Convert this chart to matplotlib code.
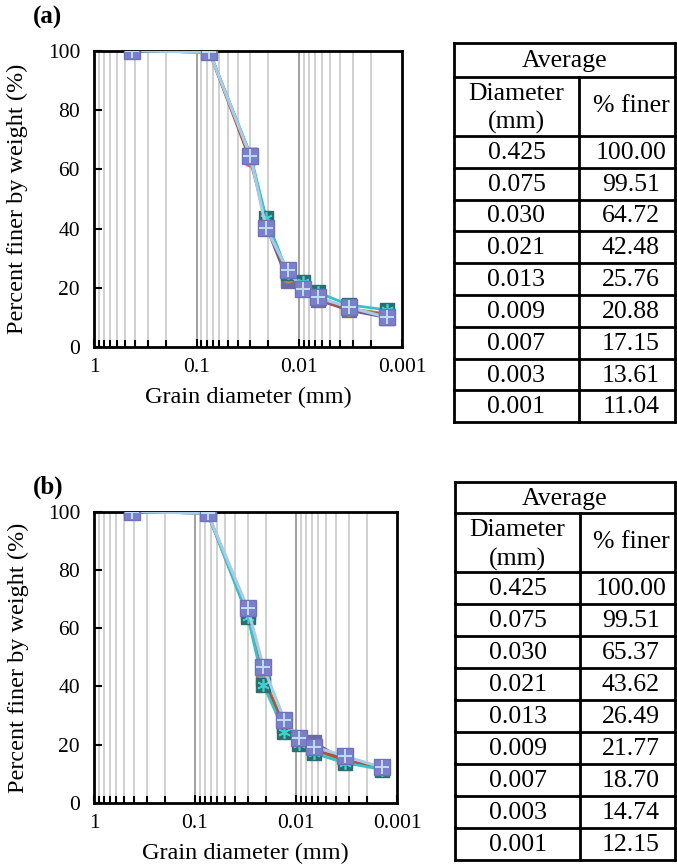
import matplotlib
matplotlib.use("Agg")
import matplotlib.pyplot as plt
from matplotlib.ticker import FixedLocator, FuncFormatter, NullFormatter

plt.rcParams['font.family'] = ['Liberation Serif', 'DejaVu Serif']

# sieve / hydrometer diameters (mm)
diam = [0.425, 0.075, 0.030, 0.021, 0.013, 0.0093, 0.0066, 0.0033, 0.0014]

# replicate gradation curves, soil (a)
a_red = [100, 99.5, 63.0, 43.0, 24.5, 20.5, 16.2, 12.8, 10.9]
a_olive = [100, 99.5, 64.0, 42.5, 24.0, 21.0, 16.5, 13.0, 11.3]
a_purple = [100, 99.5, 64.8, 40.8, 22.5, 20.0, 16.0, 12.5, 10.0]
a_teal = [100, 99.5, 65.0, 43.5, 25.0, 22.0, 18.5, 14.3, 12.6]
a_blue = [100, 99.5, 64.5, 40.1, 26.0, 19.8, 16.8, 13.5, 10.1]
a_avg = [100.00, 99.51, 64.72, 42.48, 25.76, 20.88, 17.15, 13.61, 11.04]

# replicate gradation curves, soil (b)
b_red = [100, 99.5, 64.5, 42.4, 26.1, 21.5, 18.5, 14.8, 11.8]
b_olive = [100, 99.5, 65.0, 43.5, 26.0, 21.5, 18.2, 14.5, 11.9]
b_purple = [100, 99.5, 65.5, 43.0, 26.5, 21.8, 20.8, 14.6, 12.0]
b_teal = [100, 99.5, 64.0, 40.5, 24.4, 20.4, 17.0, 13.8, 11.5]
b_blue = [100, 99.5, 66.8, 46.7, 28.5, 22.2, 19.3, 16.1, 12.2]
b_avg = [100.00, 99.51, 65.37, 43.62, 26.49, 21.77, 18.70, 14.74, 12.15]

W, H = 677, 867
fig = plt.figure(figsize=(W / 100, H / 100), dpi=100)


def px_axes(left, top, right, bottom):
    return fig.add_axes([left / W, 1 - bottom / H, (right - left) / W, (bottom - top) / H])


def curve_panel(ax, red, olive, purple, teal, blue):
    minors = [m * 10.0 ** e for e in (-3, -2, -1) for m in range(2, 10)]
    for x in minors:
        ax.axvline(x, color='#c8c8c8', lw=1.2, zorder=0)
    for x in (0.1, 0.01):
        ax.axvline(x, color='#a0a0a0', lw=1.4, zorder=0)

    ax.plot(diam, purple, color='#6a5a9a', lw=2, marker='s', ms=10,
            mfc='#6b6ba5', mec='#6b6ba5', zorder=2)
    ax.plot(diam, olive, color='#9a9238', lw=2, marker='o', ms=9,
            mfc='#a8a040', mec='#a8a040', zorder=3)
    ax.plot(diam, red, color='#b0503c', lw=2, marker='o', ms=9,
            mfc='#f08078', mec='#d07060', zorder=4)
    ax.plot(diam, teal, color='#3cc0c8', lw=2, marker='s', ms=10,
            mfc='#2c6e6e', mec='#2c6e6e', zorder=5)
    ax.plot(diam, teal, ls='none', marker=(6, 2, 0), ms=9, mec='#40d0d0',
            mew=1.2, zorder=5)
    ax.plot(diam, blue, color='#a8cce8', lw=2.2, marker='s', ms=11,
            mfc='#7b80cc', mec='#6e72b8', zorder=6)
    ax.plot(diam, blue, ls='none', marker='+', ms=10, mec='#c0dcf4',
            mew=1.4, zorder=7)

    ax.set_xscale('log')
    ax.set_xlim(1, 0.001)
    ax.set_ylim(0, 100)
    ax.xaxis.set_major_locator(FixedLocator([1, 0.1, 0.01, 0.001]))
    ax.xaxis.set_major_formatter(FuncFormatter(lambda v, p: f"{v:g}"))
    ax.xaxis.set_minor_locator(FixedLocator(minors))
    ax.xaxis.set_minor_formatter(NullFormatter())
    ax.set_yticks([0, 20, 40, 60, 80, 100])
    ax.tick_params(axis='both', which='major', direction='in', length=6,
                   width=1.5, labelsize=15.5, colors='black')
    ax.tick_params(axis='x', which='major', pad=8)
    ax.tick_params(axis='y', which='major', pad=10)
    ax.tick_params(axis='x', which='minor', direction='in', length=5, width=1.5)
    for s in ax.spines.values():
        s.set_linewidth(2)
        s.set_color('black')
    ax.set_xlabel('Grain diameter (mm)', fontsize=17.5)
    ax.set_ylabel('Percent finer by weight (%)', fontsize=17.5)


def avg_table(tab, left, div, right, top, r1, r2, rh, avg):
    rows = [r2 + i * rh for i in range(len(diam) + 1)]
    lw = 2
    for y in [top, r1] + rows:
        tab.plot([left, right], [y, y], color='black', lw=lw, solid_capstyle='projecting')
    tab.plot([left, left], [top, rows[-1]], color='black', lw=lw)
    tab.plot([right, right], [top, rows[-1]], color='black', lw=lw)
    tab.plot([div, div], [r1, rows[-1]], color='black', lw=lw)
    c1 = (left + div) / 2
    c2 = 631
    fs = 18.5
    tab.text((left + right) / 2, (top + r1) / 2 + 1, 'Average', ha='center', va='center', fontsize=fs)
    tab.text(c1, r1 + 17, 'Diameter', ha='center', va='center', fontsize=fs)
    tab.text(c1, r1 + 46, '(mm)', ha='center', va='center', fontsize=fs)
    tab.text(c2, (r1 + r2) / 2, '% finer', ha='center', va='center', fontsize=fs)
    for i, (d, v) in enumerate(zip(diam, avg)):
        yc = rows[i] + rh / 2 + 1
        tab.text(c1, yc, f"{d:.3f}", ha='center', va='center', fontsize=fs)
        tab.text(c2, yc, f"{v:.2f}", ha='center', va='center', fontsize=fs)


ax_a = px_axes(94, 50.7, 402, 347.3)
curve_panel(ax_a, a_red, a_olive, a_purple, a_teal, a_blue)
ax_b = px_axes(94, 511.7, 397, 803)
curve_panel(ax_b, b_red, b_olive, b_purple, b_teal, b_blue)

for ax, h in ((ax_a, 296.6), (ax_b, 291.3)):
    ax.xaxis.label.set_va('center')
    ax.xaxis.set_label_coords(0.5, -50 / h)
    ax.yaxis.label.set_va('center')
    ax.yaxis.set_label_coords(-77 / 308, 0.5)

tab = fig.add_axes([0, 0, 1, 1], facecolor='none')
tab.set_xlim(0, W)
tab.set_ylim(H, 0)
tab.axis('off')
avg_table(tab, 454, 579, 675, 42.7, 76.7, 136, 31.8, a_avg)
avg_table(tab, 455, 580, 675, 481.7, 513.3, 571.7, 32.0, b_avg)

fig.text(33 / W, 1 - 17 / H, '(a)', fontsize=18, fontweight='bold', va='center', ha='left')
fig.text(33 / W, 1 - 487 / H, '(b)', fontsize=18, fontweight='bold', va='center', ha='left')

fig.savefig('out.png', dpi=100)
